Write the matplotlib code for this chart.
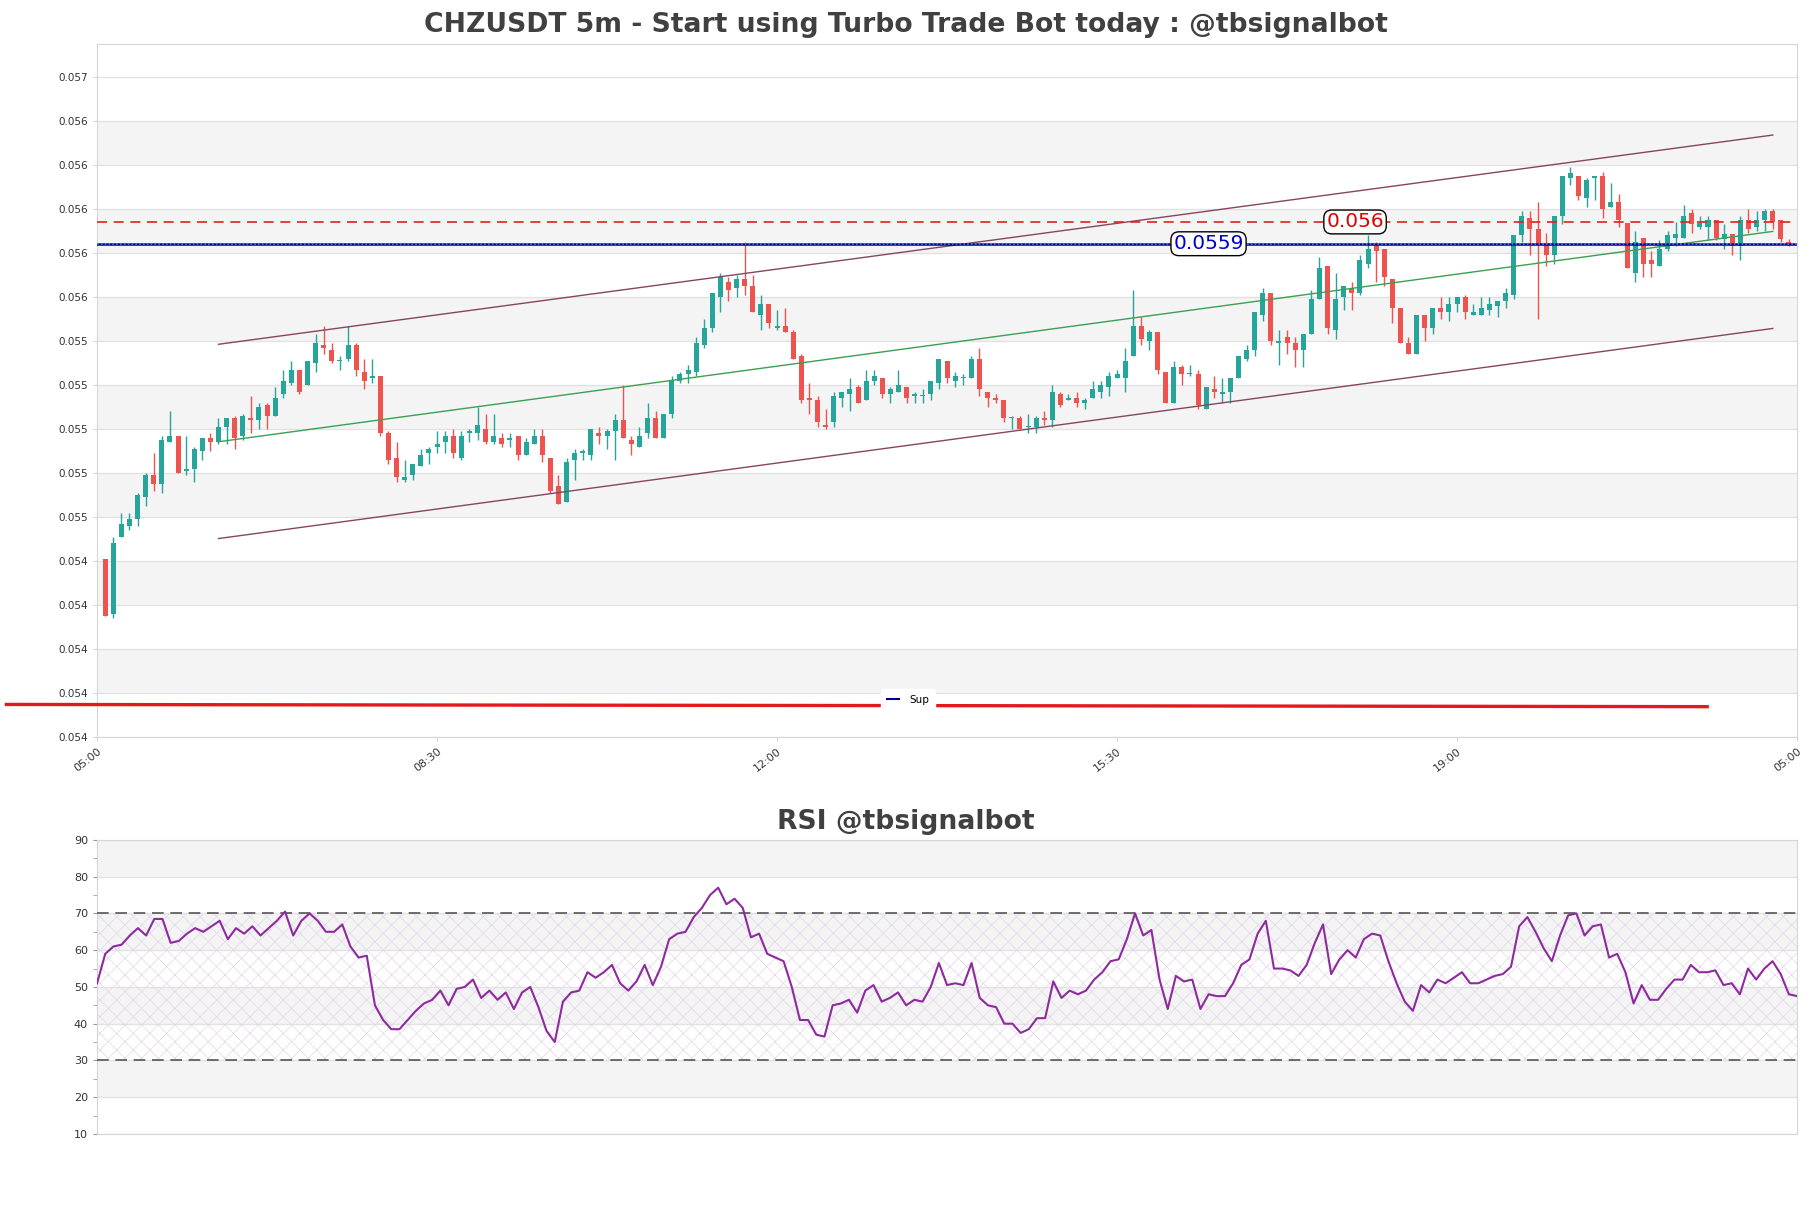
import numpy as np
import matplotlib
matplotlib.use("Agg")
import matplotlib.pyplot as plt
from matplotlib.lines import Line2D

# ---------------- data (prices in units of 0.00001) ----------------
o_raw = [5441,5416,5451,5456,5459,5469,5479,5475,5494,5497,5481,5482,5490,5496,5494,5501,5505,5497,5505,5504,
         5511,5506,5516,5521,5527,5520,5530,5538,5536,5531,5532,5538,5526,5523,5524,5498,5487,5477,5479,5483,
         5489,5492,5494,5497,5487,5498,5498,5500,5494,5496,5495,5497,5488,5493,5497,5487,5474,5467,5486,5489,
         5488,5498,5497,5499,5504,5495,5492,5498,5505,5496,5507,5522,5525,5526,5538,5546,5560,5567,5564,5568,
         5565,5552,5557,5546,5547,5544,5533,5514,5513,5502,5503,5514,5516,5519,5513,5522,5523,5516,5517,5519,
         5515,5515,5516,5521,5531,5522,5523,5523,5532,5517,5514,5513,5505,5505,5501,5501,5505,5504,5516,5513,
         5514,5512,5514,5517,5519,5523,5523,5533,5547,5540,5544,5526,5512,5528,5525,5525,5509,5518,5516,5517,
         5523,5532,5536,5552,5562,5539,5542,5539,5536,5543,5559,5574,5545,5560,5564,5562,5575,5584,5582,5568,
         5555,5539,5534,5552,5546,5555,5553,5557,5560,5552,5552,5554,5556,5558,5561,5588,5596,5591,5584,5579,
         5597,5614,5615,5605,5614,5615,5601,5603,5593.5,5571,5587,5577,5574,5582,5587,5587,5598,5592,5592,5595,
         5586.5,5588.5,5583,5595,5592,5595,5599,5595,5585]
h_raw = [5441,5451,5462,5462,5471,5480,5489,5497,5508,5497,5497,5492,5496,5498,5505,5505,5506,5507,5515,5512,
         5512,5519,5527,5531,5527,5531,5543,5547,5539,5533,5547,5539,5532,5532,5524,5499,5494,5486,5484,5491,
         5492,5499,5499,5500,5499,5500,5510,5507,5507,5498,5498,5497,5496,5500,5500,5487,5479,5487,5491,5491,
         5500,5501,5500,5507,5520,5497,5501,5512,5508,5507,5524,5526,5529,5542,5550,5562,5571,5569,5570,5585,
         5570,5561,5557,5554,5555,5545,5534,5521,5515,5509,5517,5517,5523,5520,5527,5527,5523,5519,5527,5519,
         5517,5518,5522,5532,5531,5526,5525,5533,5537,5517,5516,5513,5506,5506,5507,5506,5508,5520,5517,5516,
         5517,5514,5522,5522,5526,5527,5537,5563,5551,5545,5544,5526,5531,5529,5529,5527,5519,5524,5523,5523,
         5533,5538,5553,5564,5562,5545,5545,5542,5543,5563,5578,5574,5571,5565,5567,5579,5588,5585,5582,5568,
         5555,5542,5552,5552,5555,5560,5560,5560,5561,5557,5560,5560,5558,5564,5588,5599,5599,5603,5589,5597,
         5615,5619,5615,5614,5615,5617,5612,5607,5593.5,5590,5587,5581,5586,5590,5594,5602,5600,5597,5597,5595,
         5593,5588.5,5597,5600,5599,5600,5600,5595,5586.5]
l_raw = [5415,5414,5451,5454,5456,5465,5472,5471,5494,5480,5479,5476,5486,5490,5493,5493,5491,5495,5498,5500,
         5500,5506,5514,5520,5516,5520,5526,5534,5530,5527,5531,5524,5518,5521,5497,5484,5476,5476,5477,5483,
         5484,5489,5489,5487,5486,5494,5495,5493,5493,5492,5492,5486,5488,5493,5485,5471,5466,5467,5477,5486,
         5486,5493,5491,5486,5496,5488,5492,5496,5496,5496,5505,5521,5521,5524,5537,5544,5553,5558,5560,5561,
         5553,5545,5546,5545,5544,5532,5512,5507,5501,5500,5501,5510,5508,5512,5513,5520,5514,5512,5517,5512,
         5512,5512,5513,5518,5521,5519,5520,5523,5515,5510,5512,5503,5500,5500,5498,5498,5502,5501,5510,5513,
         5510,5509,5514,5514,5515,5523,5517,5533,5538,5536,5525,5512,5512,5520,5524,5509,5509,5514,5512,5512,
         5523,5531,5533,5549,5538,5529,5534,5528,5528,5543,5559,5543,5541,5554,5554,5561,5573,5567,5565,5548,
         5539,5534,5534,5540,5543,5550,5549,5553,5550,5552,5552,5552,5551,5555,5559,5585,5579,5550,5574,5575,
         5593,5611,5604,5601,5604,5596,5601,5592,5573,5567,5569,5569,5574,5581,5583,5587,5589,5591,5586,5586,
         5582,5579,5577,5589,5590,5590,5591,5585,5583]
c_raw = [5415,5448,5457,5459,5470,5479,5475,5495,5497,5480,5482,5491,5496,5494,5501,5505,5496,5506,5504,5510,
         5506,5514,5522,5527,5517,5531,5539,5537,5531,5531.5,5538,5527,5522,5524,5498,5486,5478,5478,5484,5488,
         5491,5493,5497,5489,5497,5499,5502,5494,5497,5493,5496,5488,5494,5497,5488,5472,5466,5485,5489,5490,
         5500,5497,5499,5504,5496,5493,5497,5505,5496,5507,5522,5525,5527,5539,5546,5562,5569,5563,5568,5565,
         5553,5557,5548,5547,5544,5532,5513,5513,5503,5501,5515,5517,5518,5512,5522,5524,5516,5518,5520,5514,
         5516,5515.3,5522,5532,5523,5524,5523.3,5532,5518,5514,5513,5505,5505.3,5500,5501.3,5505,5504,5517,5511,5514,
         5512,5513,5518,5520,5524,5525,5531,5547,5541,5544,5527,5512,5528,5525,5525.5,5511,5519,5517,5517,5523,
         5533,5536,5553,5562,5540,5540,5539,5536,5543,5559,5573,5546,5559,5565,5562,5577,5582,5581,5569,5555,
         5539,5534,5552,5546,5555,5553,5557,5560,5553,5553,5555,5557,5558,5562,5588,5597,5591,5584,5579,5597,
         5615,5616.5,5606,5613,5615,5600,5603,5595,5573,5585,5575,5575,5582,5588,5588.5,5597,5593,5593.5,5595,5587,
         5588.5,5583,5595,5591,5595,5599,5594,5586.5,5584]
unit = 1e-5
opens = np.array(o_raw) * unit
highs = np.array(h_raw) * unit
lows = np.array(l_raw) * unit
closes = np.array(c_raw) * unit

rsi = [51, 59, 61, 61.5, 64, 66, 64, 68.5, 68.5, 62, 62.5, 64.5, 66, 65, 66.5, 68, 63, 66, 64.5, 66.5,
       64, 66, 68, 70.5, 64, 68,
       70, 68, 65, 65, 67, 61, 58, 58.5, 45, 41, 38.5,
       38.5, 41, 43.5, 45.5, 46.5, 49, 45, 49.5, 50, 52,
       47, 49, 46.5, 48.5, 44, 48.5, 50, 44.5, 38, 35,
       46, 48.5, 49, 54, 52.5, 54, 56, 51, 49, 51.5,
       56, 50.5, 55.5, 63, 64.5, 65, 69, 71.5, 75, 77,
       72.5, 74, 71.5, 63.5, 64.5, 59, 58, 57, 50, 41,
       41, 37, 36.5, 45, 45.5, 46.5, 43, 49, 50.5, 46,
       47, 48.5, 45, 46.5, 46, 50, 56.5, 50.5, 51, 50.5,
       56.5, 47, 45, 44.5, 40, 40, 37.5, 38.5, 41.5, 41.5,
       51.5, 47, 49, 48, 49, 52, 54, 57, 57.5, 63,
       70, 64, 65.5, 52, 44, 53, 51.5, 52, 44, 48,
       47.5, 47.5, 51, 56, 57.5, 64.5, 68, 55, 55, 54.5,
       53, 56, 62, 67, 53.5, 57.5, 60, 58, 63, 64.5,
       64, 57, 51, 46, 43.5, 50.5, 48.5, 52, 51, 52.5,
       54, 51, 51, 52, 53, 53.5, 55.5, 66.5, 69, 65,
       60.5, 57, 64, 69.5, 70, 64, 66.5, 67, 58, 59,
       54, 45.5, 50.5, 46.5, 46.5, 49.5, 52, 52, 56, 54,
       54, 54.5, 50.5, 51, 48, 55, 52, 55, 57, 53.5,
       48, 47.5]

x_tick_labels = ["05:00", "08:30", "12:00", "15:30", "19:00", "05:00"]
resistance_level = 0.055941
resistance_text = "0.056"
support_level = 0.055842
support_text = "0.0559"
channel_x = [14, 206]
channel_upper = [0.055385, 0.056336]
channel_mid = [0.054942, 0.055898]
channel_lower = [0.054502, 0.055457]
sup_x = [-12.2, 197.9]
sup_y = [0.053748, 0.053738]
price_ticks = [0.0536 + 0.0002 * i for i in range(16)]
rsi_ticks = [10, 20, 30, 40, 50, 60, 70, 80, 90]

# ---------------- figure ----------------
plt.rcParams['font.family'] = ['DejaVu Sans']
plt.rcParams['hatch.linewidth'] = 0.5
fig = plt.figure(figsize=(18.11, 12.08), dpi=100, facecolor='white')

ax = fig.add_axes([0.0536, 0.3899, 0.9387, 0.5737])
ar = fig.add_axes([0.0536, 0.0613, 0.9387, 0.2434])

n = len(opens)
x = np.arange(n)
spine_c = '#d6d6d6'
grid_c = '#e2e2e2'
band_c = '#f4f4f4'
txt_c = '#333333'

# price bands
for i in range(1, len(price_ticks) - 1, 2):
    ax.axhspan(price_ticks[i], price_ticks[i + 1], color=band_c, zorder=0, lw=0)
for t in price_ticks:
    ax.axhline(t, color=grid_c, lw=1.0, zorder=0.5)

# candles
up = closes >= opens
cols = np.where(up, '#26a69a', '#ef5350')
ax.vlines(x, lows, highs, colors=cols, lw=1.0, zorder=3)
body_b = np.minimum(opens, closes)
body_h = np.maximum(np.abs(closes - opens), 0.000005)
ax.bar(x, body_h, 0.62, bottom=body_b, color=cols, lw=0, zorder=4)

# channel
ax.plot(channel_x, channel_upper, color='#864660', lw=1.0, zorder=5)
ax.plot(channel_x, channel_lower, color='#864660', lw=1.0, zorder=5)
ax.plot(channel_x, channel_mid, color='#3aa052', lw=1.0, zorder=5)

# levels
ax.axhline(resistance_level, color='#e02020', lw=1.2, dashes=(6, 4), zorder=6)
ax.axhline(support_level, color='navy', lw=1.8, zorder=6, label='Sup')
ax.axhline(support_level, color='#4a7dff', lw=1.2, ls=(0, (1.0, 1.3)), zorder=6.5)
ax.text(154.4, resistance_level, resistance_text, color='#e00000', fontsize=14.5,
        ha='center', va='center', zorder=8,
        bbox=dict(boxstyle='round,pad=0.12,rounding_size=0.4', fc='white', ec='black', lw=1.0))
ax.text(136.3, support_level, support_text, color='#0000cc', fontsize=14.5,
        ha='center', va='center', zorder=8,
        bbox=dict(boxstyle='round,pad=0.12,rounding_size=0.4', fc='white', ec='black', lw=1.0))

# support line extending beyond the axes
ax.plot(sup_x, sup_y, color='#e31a1c', lw=2.4, clip_on=False, zorder=7)

leg = ax.legend(handles=[Line2D([], [], color='navy', lw=1.5)], labels=['Sup'],
                loc='lower center', bbox_to_anchor=(0.477, 0.03), fontsize=7.5,
                frameon=True, framealpha=1, edgecolor='white', facecolor='white',
                handlelength=1.1, handletextpad=1.0, borderpad=0.6)
leg.set_zorder(20)

ax.set_xlim(-1, n)
ax.set_ylim(0.0536, 0.05675)
ax.set_yticks(price_ticks)
ax.set_yticklabels(['{:.3f}'.format(t) for t in price_ticks], fontsize=7.5, color=txt_c)
ax.set_xticks(np.linspace(-1, n, len(x_tick_labels)))
ax.set_xticklabels(x_tick_labels, rotation=38, ha='right', va='top', rotation_mode='anchor',
                   fontsize=8, color=txt_c)
ax.tick_params(axis='both', length=3, color=spine_c)
for s in ax.spines.values():
    s.set_color(spine_c)

# ---------------- RSI ----------------
m = len(rsi)
xr = np.arange(m)
for lo, hi in [(20, 30), (40, 50), (60, 70), (80, 90)]:
    ar.axhspan(lo, hi, color=band_c, zorder=0, lw=0)
for t in rsi_ticks:
    ar.axhline(t, color=grid_c, lw=1.0, zorder=0.5)
ar.fill_between([0, m - 1], 30, 70, facecolor='none', edgecolor='#e2d6ea', hatch='xx', lw=0, zorder=1)
ar.axhline(70, color='#555555', lw=1.2, dashes=(7, 4), zorder=3)
ar.axhline(30, color='#555555', lw=1.2, dashes=(7, 4), zorder=3)
ar.plot(xr, rsi, color='#8e2a9e', lw=1.5, zorder=4)
ar.set_xlim(0, m - 1)
ar.set_ylim(10, 90)
ar.set_yticks(rsi_ticks)
ar.set_yticklabels([str(t) for t in rsi_ticks], fontsize=8, color=txt_c)
ar.set_yticks([15, 25, 35, 45, 55, 65, 75, 85], minor=True)
ar.set_xticks([])
ar.tick_params(axis='y', which='both', length=3, color='#999999')
for s in ar.spines.values():
    s.set_color(spine_c)

fig.text(0.5, 0.979, "CHZUSDT 5m - Start using Turbo Trade Bot today : @tbsignalbot",
         ha='center', va='center', fontsize=19.2, fontweight='bold', color='#404040')
fig.text(0.5, 0.3195, "RSI @tbsignalbot", ha='center', va='center', fontsize=19.2,
         fontweight='bold', color='#404040')

fig.savefig("out.png", dpi=100, facecolor='white')
